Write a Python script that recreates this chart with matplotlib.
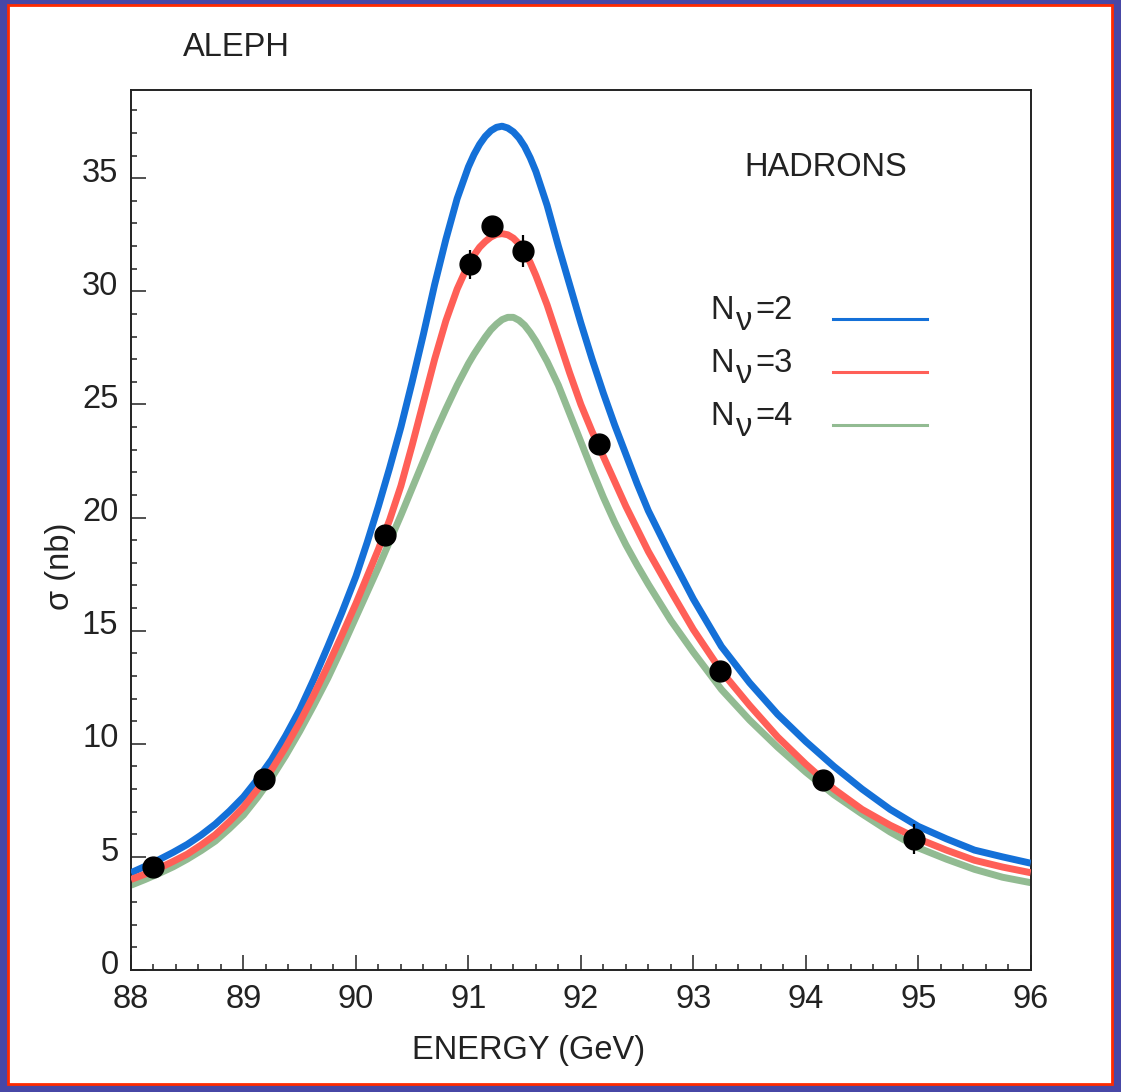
import numpy as np
import matplotlib
matplotlib.use('Agg')
import matplotlib.pyplot as plt
from matplotlib.patches import Rectangle
from matplotlib.ticker import MultipleLocator
from matplotlib.transforms import ScaledTranslation

matplotlib.rcParams['font.family'] = 'Liberation Sans'

# curves (energy in GeV, sigma in nb)
energy = [88.0, 88.125, 88.25, 88.375, 88.5, 88.625, 88.75, 88.875,
          89.0, 89.125, 89.25, 89.375, 89.5, 89.625, 89.75, 89.875,
          90.0, 90.1, 90.2, 90.3, 90.4, 90.5, 90.6, 90.7, 90.8, 90.9,
          91.0, 91.05, 91.1, 91.15, 91.2, 91.25, 91.3, 91.35, 91.4, 91.45,
          91.5, 91.55, 91.6, 91.7, 91.8, 91.9,
          92.0, 92.1, 92.2, 92.3, 92.4, 92.5, 92.6, 92.8, 93.0, 93.25,
          93.5, 93.75, 94.0, 94.25, 94.5, 94.75, 95.0, 95.25, 95.5, 95.75, 96.0]
sigma_nu2 = [4.3, 4.58, 4.88, 5.2, 5.55, 5.97, 6.45, 7.02,
             7.65, 8.43, 9.3, 10.35, 11.5, 12.85, 14.3, 15.8,
             17.4, 18.9, 20.5, 22.2, 24.0, 26.0, 28.1, 30.3, 32.3, 34.1,
             35.5, 36.05, 36.5, 36.85, 37.1, 37.25, 37.3, 37.22, 37.05, 36.78,
             36.4, 35.9, 35.3, 33.8, 32.0, 30.3,
             28.6, 27.0, 25.5, 24.1, 22.8, 21.5, 20.3, 18.3, 16.4, 14.3,
             12.7, 11.3, 10.1, 9.0, 8.0, 7.1, 6.35, 5.8, 5.3, 5.0, 4.72]
sigma_nu3 = [4.0, 4.24, 4.5, 4.8, 5.12, 5.53, 5.98, 6.56,
             7.2, 7.99, 8.85, 9.85, 10.95, 12.16, 13.45, 14.8,
             16.2, 17.4, 18.6, 19.9, 21.4, 23.2, 25.1, 27.0, 28.7, 30.1,
             31.2, 31.6, 31.95, 32.2, 32.4, 32.52, 32.55, 32.5, 32.35, 32.1,
             31.75, 31.27, 30.7, 29.4, 27.9, 26.4,
             25.0, 23.8, 22.7, 21.6, 20.5, 19.5, 18.5, 16.75, 15.05, 13.2,
             11.7, 10.3, 9.1, 8.0, 7.1, 6.4, 5.8, 5.3, 4.85, 4.55, 4.3]
sigma_nu4 = [3.75, 4.0, 4.27, 4.56, 4.9, 5.28, 5.7, 6.25,
             6.85, 7.63, 8.5, 9.48, 10.55, 11.7, 12.9, 14.22,
             15.6, 16.7, 17.8, 18.95, 20.1, 21.3, 22.5, 23.7, 24.8, 25.85,
             26.8, 27.22, 27.6, 27.97, 28.3, 28.55, 28.75, 28.85, 28.85, 28.72,
             28.5, 28.18, 27.8, 26.9, 25.85, 24.6,
             23.35, 22.1, 20.9, 19.8, 18.8, 17.9, 17.05, 15.45, 14.05, 12.4,
             11.05, 9.85, 8.75, 7.75, 6.9, 6.1, 5.4, 4.9, 4.45, 4.1, 3.86]

# ALEPH hadronic points
data_e = [88.2, 89.18, 90.26, 91.01, 91.21, 91.49, 92.16, 93.24, 94.15, 94.96]
data_sigma = [4.57, 8.44, 19.25, 31.19, 32.89, 31.78, 23.27, 13.23, 8.41, 5.78]
data_err = [0.25, 0.3, 0.35, 0.65, 0.4, 0.7, 0.4, 0.35, 0.35, 0.66]

legend_n = ['2', '3', '4']
legend_y = [319, 372, 425]   # pixel rows of the legend entries
colors = ['#1470d8', '#ff5f57', '#92bb92']
ink = '#222222'

W, H = 1121, 1092
fig = plt.figure(figsize=(W / 100, H / 100), dpi=100)
fig.patch.set_facecolor('#4747a6')
fig.add_artist(Rectangle((8 / W, 8 / H), 1 - 17 / W, 1 - 13 / H,
                         transform=fig.transFigure, facecolor='white',
                         edgecolor='#ff2a00', linewidth=2.0, zorder=-1))

ax = fig.add_axes([131 / W, 1 - 970 / H, 899.7 / W, 880 / H])
ax.set_facecolor('white')

ax.plot(energy, sigma_nu4, color=colors[2], lw=5.0, zorder=2, solid_capstyle='butt')
ax.plot(energy, sigma_nu2, color=colors[0], lw=5.0, zorder=3, solid_capstyle='butt')
ax.plot(energy, sigma_nu3, color=colors[1], lw=5.0, zorder=4, solid_capstyle='butt')
ax.errorbar(data_e, data_sigma, yerr=data_err, fmt='o', color='black',
            ms=15, elinewidth=1.6, capsize=0, zorder=5)

ax.set_xlim(88, 96)
ax.set_ylim(0, 38.9)
ax.xaxis.set_major_locator(MultipleLocator(1))
ax.xaxis.set_minor_locator(MultipleLocator(0.2))
ax.yaxis.set_major_locator(MultipleLocator(5))
ax.yaxis.set_minor_locator(MultipleLocator(1))
ax.tick_params(which='both', direction='in', top=False, right=False,
               width=1.1, color=ink, labelcolor=ink, labelsize=23.5)
ax.tick_params(which='major', length=10.8)
ax.tick_params(which='minor', length=4.0)
ax.tick_params(axis='x', pad=10)
ax.tick_params(axis='y', pad=9)
for sp in ax.spines.values():
    sp.set_linewidth(1.4)
    sp.set_color(ink)

# legend drawn by hand: N, a full size lowered nu, then =n
for n, yy, c in zip(legend_n, legend_y, colors):
    fig.text(710 / W, 1 - yy / H, 'N', fontsize=23.5, color=ink,
             ha='left', va='baseline')
    fig.text(736 / W, 1 - (yy + 11) / H, '\u03bd', fontsize=23.5, color=ink,
             ha='left', va='baseline')
    fig.text(755 / W, 1 - yy / H, '=' + n, fontsize=23.5, color=ink,
             ha='left', va='baseline')
    fig.add_artist(plt.Line2D([833 / W, 927 / W], [1 - yy / H, 1 - yy / H],
                              color=c, lw=2.2, transform=fig.transFigure))

fig.text(236 / W, 1 - 48 / H, 'ALEPH', fontsize=23.5, ha='center', va='center',
         color=ink)
fig.text(826 / W, 1 - 167 / H, 'HADRONS', fontsize=23.5, ha='center', va='center',
         color=ink)
fig.text(529 / W, 1 - 1051 / H, 'ENERGY (GeV)', fontsize=23.5, ha='center',
         va='center', color=ink)
fig.text(61 / W, 1 - 566 / H, '\u03c3 (nb)', fontsize=23.5, ha='center',
         va='center', rotation=90, color=ink)

# the y tick labels sit a little above their ticks in the original
fig.canvas.draw()
shift = ScaledTranslation(0, 6 / 72, fig.dpi_scale_trans)
for t in ax.yaxis.get_major_ticks():
    t.label1.set_transform(t.label1.get_transform() + shift)

fig.savefig('out.png', dpi=100, facecolor=fig.get_facecolor())
